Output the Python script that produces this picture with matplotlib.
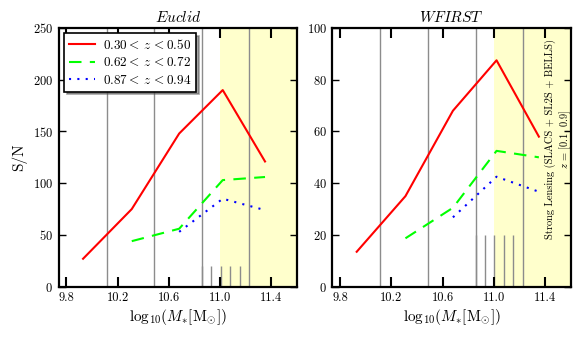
import matplotlib
matplotlib.use("Agg")
import matplotlib.pyplot as plt

plt.rcParams['font.family'] = ['cmr10', 'DejaVu Serif']
plt.rcParams['mathtext.fontset'] = 'cm'
plt.rcParams['axes.formatter.use_mathtext'] = True

# Daten
mass = [9.93, 10.31, 10.68, 11.02, 11.35]
labels = [r'0.30$<\,z\,<$0.50', r'0.62$<\,z\,<$0.72', r'0.87$<\,z\,<$0.94']

euclid_red = [27, 75, 148, 190, 121]
euclid_green = [None, 44, 56, 103, 106]
euclid_blue = [None, None, 53, 85, 74]

wfirst_red = [13.5, 35, 68, 87.5, 58]
wfirst_green = [None, 18.7, 30.5, 52.5, 50]
wfirst_blue = [None, None, 26.8, 42.5, 36.7]

bin_lines = [10.115, 10.485, 10.857, 11.228]
short_lines = [10.857, 10.93, 11.003, 11.078, 11.152]
xticks = [9.8, 10.2, 10.6, 11.0, 11.4]


def strip(xs, ys):
    pts = [(x, y) for x, y in zip(xs, ys) if y is not None]
    return [p[0] for p in pts], [p[1] for p in pts]


fig = plt.figure(figsize=(5.82, 3.37), dpi=100)
ax1 = fig.add_axes([0.1009, 0.1493, 0.4095, 0.7677])
ax2 = fig.add_axes([0.571, 0.1493, 0.410, 0.7677])

panels = [
    (ax1, r'$Euclid$', euclid_red, euclid_green, euclid_blue, 250, [0, 50, 100, 150, 200, 250]),
    (ax2, r'$WFIRST$', wfirst_red, wfirst_green, wfirst_blue, 100, [0, 20, 40, 60, 80, 100]),
]

for ax, title, r, g, b, ymax, yt in panels:
    ax.axvspan(11.0, 11.6, color='#ffffcc', zorder=0, lw=0)
    for xv in bin_lines:
        ax.axvline(xv, color='0.55', lw=1, zorder=1)
    ax.vlines(short_lines, 0, 20, color='0.55', lw=1, zorder=1)
    ax.plot(*strip(mass, r), color='red', lw=1.5, ls='-', label=labels[0], zorder=3)
    ax.plot(*strip(mass, g), color='#00ff00', lw=1.5, ls=(0, (6, 4)), label=labels[1], zorder=3)
    ax.plot(*strip(mass, b), color='blue', lw=1.5, ls=(0, (1, 3)), label=labels[2], zorder=3)
    ax.set_xlim(9.74, 11.6)
    ax.set_ylim(0, ymax)
    ax.set_xticks(xticks)
    ax.set_xticklabels([f'{v:.1f}' for v in xticks])
    ax.set_yticks(yt)
    ax.set_title(title, fontsize=11, pad=4)
    ax.set_xlabel(r'$\mathrm{log}_{10}(M_{*}[\mathrm{M}_{\odot}])$', fontsize=11, labelpad=2)
    ax.tick_params(axis='x', direction='in', length=7, width=1.5, top=True, labelsize=9, pad=4)
    ax.tick_params(axis='y', direction='in', length=5, width=1, right=True, labelsize=9, pad=4)
    for s in ax.spines.values():
        s.set_linewidth(1.6)

ax1.set_ylabel('S/N', fontsize=11)

leg = ax1.legend(loc='upper left', fontsize=9.5, frameon=True, fancybox=False, shadow=True,
                 framealpha=1, edgecolor='black', handlelength=2.0, borderaxespad=0.4,
                 labelspacing=0.35, borderpad=0.35, handletextpad=0.6)
leg.get_frame().set_linewidth(1.2)
leg.set_zorder(5)

ax2.text(11.505, 57, 'Strong Lensing (SLACS + SL2S + BELLS)\n' + r'$z$ = [0.1, 0.9]',
         rotation=90, ha='center', va='center', fontsize=7.5, multialignment='center',
         linespacing=1.15, zorder=4)

fig.savefig('out.png', dpi=100)
